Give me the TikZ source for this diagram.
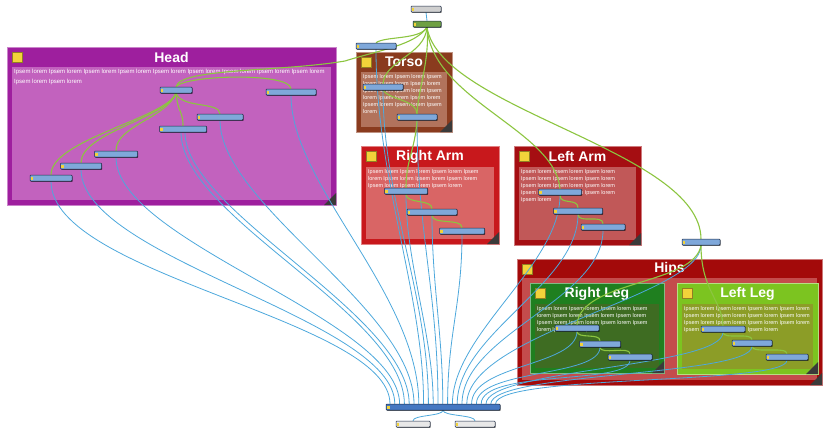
\documentclass[tikz,border=0pt]{standalone}
\usepackage{fontspec}
\setmainfont{Liberation Sans}
\usetikzlibrary{shadows}
\definecolor{headO}{HTML}{9E1F9E}\definecolor{headI}{HTML}{C262BE}
\definecolor{torsoO}{HTML}{8A3B1E}\definecolor{torsoI}{HTML}{B2735C}
\definecolor{raO}{HTML}{C8181C}\definecolor{raI}{HTML}{D96565}
\definecolor{laO}{HTML}{A50E12}\definecolor{laI}{HTML}{C15858}
\definecolor{hipO}{HTML}{A30A0A}\definecolor{hipI}{HTML}{C44C4C}
\definecolor{rlO}{HTML}{1F7F1F}\definecolor{rlI}{HTML}{3E6C22}
\definecolor{llO}{HTML}{7CC420}\definecolor{llI}{HTML}{8C9D27}
\definecolor{gyel}{HTML}{F2D33A}\definecolor{cornr}{HTML}{3A3A3A}
\definecolor{nodefill}{HTML}{7FA8DA}\definecolor{nodeedge}{HTML}{1B2A44}
\definecolor{topgray}{HTML}{CFCFCF}\definecolor{topgreen}{HTML}{6FA043}
\definecolor{busfill}{HTML}{4578C2}\definecolor{botfill}{HTML}{E8E8E8}
\definecolor{blueln}{HTML}{4DA8DC}\definecolor{greenln}{HTML}{8CC540}
\pgfdeclarelayer{bg}\pgfdeclarelayer{edges}
\pgfsetlayers{bg,edges,main}
% group: name, x1,y1,x2,y2, title height, outer, inner, title
\newcommand\grp[9]{%
 \begin{pgfonlayer}{bg}
 \fill[#7] (#2,#3) rectangle (#4,#5);
 \draw[#7!55!white, line width=0.8pt] (#2,#3) rectangle (#4,#5);
 \fill[#8] ({#2+5},{#3+#6}) rectangle ({#4-5},{#5-5});
 \fill[gyel, draw=gyel!60!black, line width=0.3pt] ({#2+5},{#3+5}) rectangle ({#2+15},{#3+15});
 \fill[cornr] ({#4},{#5-12}) -- ({#4},{#5}) -- ({#4-12},{#5}) -- cycle;
 \node[gtitle] (#1-title) at ({(#2+#4)/2},{#3+#6/2}) {#9};
 \coordinate (#1-tl) at ({#2+7},{#3+#6+2});
 \end{pgfonlayer}}
\newcommand\grptxt[3][]{%
 \begin{pgfonlayer}{bg}\node[gtext,#1] (#2-text) at (#2-tl) {#3};\end{pgfonlayer}}
% small node: [fill] name x y width
\newcommand\pn[5][nodefill]{%
 \node[pnode, fill=#1, minimum width=#5pt] (#2) at (#3,#4) {};
 \fill[gyel] ([xshift=1pt,yshift=1pt]#2.south west) rectangle ++(2.6pt,3pt);}
\begin{document}
\begin{tikzpicture}[x=1pt,y=-1pt,
  gtitle/.style={text=white, font=\fontsize{14}{16}\selectfont\bfseries, inner sep=0pt},
  gtext/.style={text=white, font=\fontsize{5.5}{7}\selectfont, align=left, inner sep=0pt, anchor=north west},
  pnode/.style={rectangle, rounded corners=0.8pt, draw=nodeedge, line width=0.5pt,
    minimum height=6pt, inner sep=0pt,
    drop shadow={shadow xshift=0.7pt, shadow yshift=-0.9pt, fill=black, opacity=0.6}},
  bl/.style={draw=blueln, line width=0.8pt},
  gr/.style={draw=greenln, line width=1.1pt}]
\useasboundingbox (0,0) rectangle (823,431);

% ---------- groups ----------
\grp{head}{7}{47}{336}{205}{20}{headO}{headI}{Head}
\grptxt[font=\fontsize{6}{10}\selectfont]{head}{Ipsem lorem Ipsem lorem Ipsem lorem Ipsem lorem Ipsem lorem Ipsem lorem Ipsem lorem Ipsem lorem Ipsem lorem\\Ipsem lorem Ipsem lorem}
\grp{torso}{356}{52}{452}{132}{20}{torsoO}{torsoI}{Torso}
\grptxt{torso}{Ipsem lorem Ipsem lorem Ipsem\\lorem Ipsem lorem Ipsem lorem\\Ipsem lorem Ipsem lorem Ipsem\\lorem Ipsem lorem Ipsem lorem\\Ipsem lorem Ipsem lorem Ipsem\\lorem}
\grp{rarm}{361}{146}{499}{244}{21}{raO}{raI}{Right Arm}
\grptxt{rarm}{Ipsem lorem Ipsem lorem Ipsem lorem Ipsem\\lorem Ipsem lorem Ipsem lorem Ipsem lorem\\Ipsem lorem Ipsem lorem Ipsem lorem}
\grp{larm}{514}{146}{641}{245}{21}{laO}{laI}{Left Arm}
\grptxt{larm}{Ipsem lorem Ipsem lorem Ipsem lorem\\Ipsem lorem Ipsem lorem Ipsem lorem\\Ipsem lorem Ipsem lorem Ipsem lorem\\Ipsem lorem Ipsem lorem Ipsem lorem\\Ipsem lorem}
\grp{hips}{517}{259}{822}{385}{19}{hipO}{hipI}{Hips}
\grp{rleg}{530}{283}{664}{373}{21}{rlO}{rlI}{Right Leg}
\grptxt{rleg}{Ipsem lorem Ipsem lorem Ipsem lorem Ipsem\\lorem Ipsem lorem Ipsem lorem Ipsem lorem\\Ipsem lorem Ipsem lorem Ipsem lorem Ipsem\\lorem Ipsem lorem Ipsem}
\grp{lleg}{677}{283}{818}{374}{21}{llO}{llI}{Left Leg}
\grptxt{lleg}{Ipsem lorem Ipsem lorem Ipsem lorem Ipsem lorem\\Ipsem lorem Ipsem lorem Ipsem lorem Ipsem lorem\\Ipsem lorem Ipsem lorem Ipsem lorem Ipsem lorem\\Ipsem lorem Ipsem lorem Ipsem lorem}

% ---------- nodes ----------
\pn[topgray]{T1}{426}{9}{30}
\pn[topgreen]{T2}{427}{24}{28}
\pn{T3}{376}{46}{40}
\pn{H1}{176}{90}{32}
\pn{H2}{291}{92}{50}
\pn{H3}{220}{117}{46}
\pn{H4}{183}{129}{47}
\pn{H5}{116}{154}{43}
\pn{H6}{81}{166}{41}
\pn{H7}{51}{178}{42}
\pn{TO1}{383}{87}{40}
\pn{TO2}{417}{117}{40}
\pn{RA1}{406}{191}{43}
\pn{RA2}{432}{212}{50}
\pn{RA3}{462}{231}{45}
\pn{LA1}{560}{192}{43}
\pn{LA2}{578}{211}{49}
\pn{LA3}{603}{227}{44}
\pn{N}{701}{242}{38}
\pn{RL1}{577}{328}{44}
\pn{RL2}{600}{344}{41}
\pn{RL3}{630}{357}{44}
\pn{LL1}{723}{329}{44}
\pn{LL2}{752}{343}{40}
\pn{LL3}{787}{357}{42}
\node[pnode, fill=busfill, minimum width=114pt] (bus) at (443,407) {};
\fill[gyel] ([xshift=1pt,yshift=1pt]bus.south west) rectangle ++(3pt,3pt);
\pn[botfill]{B1}{413}{424}{34}
\pn[botfill]{B2}{475}{424}{40}
\foreach \i in {0,...,22} \coordinate (p\i) at ({390+\i*4.8},404);

% ---------- edges ----------
\begin{pgfonlayer}{edges}
\foreach \i in {0,...,22} \draw[white!80!blueln, line width=0.5pt] (p\i) -- ++(0,2);
% blue
\draw[bl] (H7.south) .. controls +(0,95) and +(0,-85) .. (p0);
\draw[bl] (H6.south) .. controls +(0,90) and +(0,-85) .. (p1);
\draw[bl] (H5.south) .. controls +(0,85) and +(0,-85) .. (p2);
\draw[bl] ([xshift=-2pt]H4.south) .. controls +(0,85) and +(0,-90) .. (p3);
\draw[bl] ([xshift=2pt]H4.south) .. controls +(0,80) and +(0,-90) .. (p4);
\draw[bl] (H3.south) .. controls +(0,85) and +(0,-95) .. (p5);
\draw[bl] (H2.south) .. controls +(0,90) and +(0,-110) .. (p6);
\draw[bl] (T3.south) .. controls +(0,130) and +(0,-110) .. (p7);
\draw[bl] (TO1.south) .. controls +(0,110) and +(0,-110) .. (p8);
\draw[bl] (RA1.south) .. controls +(0,70) and +(0,-70) .. (p9);
\draw[bl] (TO2.south) .. controls +(0,110) and +(0,-110) .. (p10);
\draw[bl] (RA2.south) .. controls +(0,70) and +(0,-70) .. (p11);
\draw[bl] (RA3.south) .. controls +(0,70) and +(0,-70) .. (p12);
\draw[bl] (LA1.south) .. controls +(0,70) and +(0,-70) .. (p13);
\draw[bl] (LA2.south) .. controls +(0,70) and +(0,-70) .. (p14);
\draw[bl] (LA3.south) .. controls +(0,70) and +(0,-70) .. (p15);
\draw[bl] (N.south) .. controls +(0,50) and +(0,-70) .. (p16);
\draw[bl] (RL1.south) .. controls +(0,35) and +(0,-40) .. (p17);
\draw[bl] (RL2.south) .. controls +(0,30) and +(0,-35) .. (p18);
\draw[bl] (RL3.south) .. controls +(0,25) and +(0,-35) .. (p19);
\draw[bl] (LL1.south) .. controls +(0,35) and +(0,-35) .. (p20);
\draw[bl] (LL2.south) .. controls +(0,30) and +(0,-32) .. (p21);
\draw[bl] (LL3.south) .. controls +(0,25) and +(0,-30) .. (p22);
\draw[bl] (T1.south) -- (T2.north);
\draw[bl] (bus.south) .. controls +(0,6) and +(0,-6) .. (B1.north);
\draw[bl] (bus.south) .. controls +(0,6) and +(0,-6) .. (B2.north);
% green
\draw[gr] (T2.south) .. controls (420,40) and (385,36) .. (T3.north);
\draw[gr] (T2.south) .. controls (415,45) and (380,50) .. (345,61) .. controls (280,72) and (180,68) .. (H1.north);
\draw[gr] (T2.south) .. controls (425,55) and (385,60) .. (TO1.north);
\draw[gr] (T2.south) .. controls (430,60) and (418,90) .. (TO2.north);
\draw[gr] (TO1.south) .. controls (390,100) and (417,100) .. (TO2.north);
\draw[gr] (TO2.south) .. controls (415,150) and (406,160) .. (RA1.north);
\draw[gr] (T2.south) .. controls (432,100) and (555,130) .. (LA1.north);
\draw[gr] (T2.south) .. controls (440,110) and (700,150) .. (N.north);
\draw[gr] (H1.north) .. controls (185,75) and (290,72) .. (H2.north);
\draw[gr] (H1.south) .. controls +(5,15) and +(0,-12) .. (H3.north);
\draw[gr] (H1.south) .. controls +(2,20) and +(0,-15) .. (H4.north);
\draw[gr] (H1.south) .. controls +(-10,25) and +(0,-25) .. (H5.north);
\draw[gr] (H1.south) .. controls +(-10,25) and +(0,-30) .. (H6.north);
\draw[gr] (H1.south) .. controls +(-10,25) and +(0,-35) .. (H7.north);
\draw[gr] (RA1.south) .. controls +(0,10) and +(0,-10) .. (RA2.north);
\draw[gr] (RA2.south) .. controls +(0,10) and +(0,-10) .. (RA3.north);
\draw[gr] (LA1.south) .. controls +(0,10) and +(0,-10) .. (LA2.north);
\draw[gr] (LA2.south) .. controls +(0,10) and +(0,-10) .. (LA3.north);
\draw[gr] (N.south) .. controls (695,285) and (580,280) .. (RL1.north);
\draw[gr] (N.south) .. controls (701,290) and (722,300) .. (LL1.north);
\draw[gr] (RL1.south) .. controls +(0,8) and +(0,-8) .. (RL2.north);
\draw[gr] (RL2.south) .. controls +(0,8) and +(0,-8) .. (RL3.north);
\draw[gr] (LL1.south) .. controls +(0,8) and +(0,-8) .. (LL2.north);
\draw[gr] (LL2.south) .. controls +(0,8) and +(0,-8) .. (LL3.north);
\end{pgfonlayer}
\end{tikzpicture}
\end{document}
